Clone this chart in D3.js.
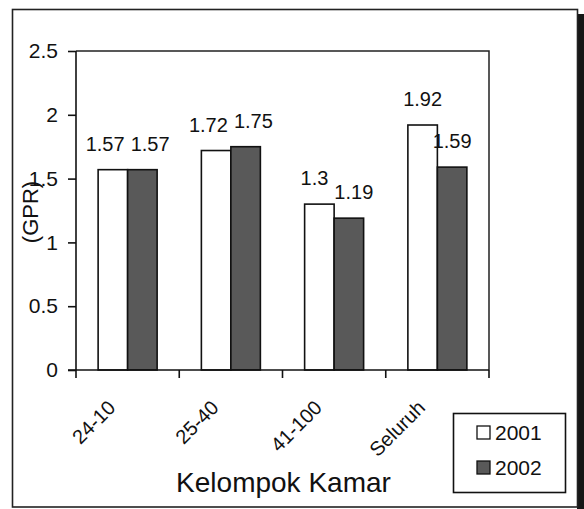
<!DOCTYPE html>
<html>
<head>
<meta charset="utf-8">
<script src="https://cdn.jsdelivr.net/npm/d3@7"></script>
<style>
	body { margin: 0; background: #fff; }
	svg text { font-family: "Liberation Sans", Arial, sans-serif; fill: #111; }
	.axis path, .axis line { stroke: #111; stroke-width: 1.6; }
</style>
</head>
<body>
<div id="chart"></div>
<script>
// data
var categories = ["24-10", "25-40", "41-100", "Seluruh"];
var years = ["2001", "2002"];
var gpr2001 = [1.57, 1.72, 1.3, 1.92];
var gpr2002 = [1.57, 1.75, 1.19, 1.59];
var yTicks = [0, 0.5, 1, 1.5, 2, 2.5];

var colors = {"2001": "#ffffff", "2002": "#595959"};

// magic numbers
var W = 584, H = 509;
var margin = {top: 51, left: 76, right: 95, bottom: 139},
	width = W - margin.left - margin.right,
	height = H - margin.top - margin.bottom;

var svg = d3.select("#chart").append("svg")
		.attr("width", W)
		.attr("height", H);

// outer frame + shadow
svg.append("rect")
		.attr("x", 577).attr("y", 14)
		.attr("width", 7).attr("height", H - 14)
		.attr("fill", "#161616");
svg.append("rect")
		.attr("x", 12.5).attr("y", 9.5)
		.attr("width", 565).attr("height", 497.5)
		.attr("fill", "#fff")
		.attr("stroke", "#222")
		.attr("stroke-width", 1.6);

var g = svg.append("g")
		.attr("transform", "translate(" + margin.left + "," + margin.top + ")");

var x0 = d3.scaleBand()
		.domain(categories)
		.range([0, width]);

var x1 = d3.scaleBand()
		.domain(years)
		.range([0, x0.bandwidth()])
		.paddingOuter(0.75);

var y = d3.scaleLinear()
		.domain([0, 2.5])
		.range([height, 0]);

var rows = categories.map(function(c, i){
	return {cat: c, values: [
		{year: "2001", value: gpr2001[i]},
		{year: "2002", value: gpr2002[i]}
	]};
});

// plot box (top + right)
g.append("path")
		.attr("d", "M0,0H" + width + "V" + height)
		.attr("fill", "none")
		.attr("stroke", "#222")
		.attr("stroke-width", 1.5);

// bars
var group = g.selectAll(".group")
		.data(rows)
	.enter().append("g")
		.attr("class", "group")
		.attr("transform", function(d){ return "translate(" + x0(d.cat) + ",0)"; });

group.selectAll("rect")
		.data(function(d){ return d.values; })
	.enter().append("rect")
		.attr("x", function(d){ return x1(d.year); })
		.attr("y", function(d){ return y(d.value); })
		.attr("width", x1.bandwidth())
		.attr("height", function(d){ return height - y(d.value); })
		.attr("fill", function(d){ return colors[d.year]; })
		.attr("stroke", "#111")
		.attr("stroke-width", 1.6);

// value labels, pushed apart when a pair collides
var labelSize = 20;
group.each(function(d){
	var sel = d3.select(this);
	var texts = d.values.map(function(v){
		return sel.append("text")
				.attr("class", "val")
				.attr("text-anchor", "middle")
				.attr("font-size", labelSize)
				.attr("x", x1(v.year) + x1.bandwidth() / 2)
				.attr("y", y(v.value) - 19)
				.text(v.value);
	});
	var a = texts[0].node().getBBox(), b = texts[1].node().getBBox();
	var overlapX = a.x + a.width + 6 - b.x,
		overlapY = Math.min(a.y + a.height, b.y + b.height) - Math.max(a.y, b.y);
	if (overlapX > 0 && overlapY > 4){
		texts[0].attr("x", +texts[0].attr("x") - overlapX / 2);
		texts[1].attr("x", +texts[1].attr("x") + overlapX / 2);
	}
});

// y axis
g.append("g")
		.attr("class", "axis y")
		.call(d3.axisLeft(y)
			.tickValues(yTicks)
			.tickSize(8)
			.tickPadding(10)
			.tickFormat(function(d){ return String(d); }))
		.call(function(s){ s.select(".domain").attr("d", "M0,0V" + height); })
		.selectAll("text")
			.attr("font-size", 21)
			.attr("fill", "#111");

// x axis
var xa = g.append("g")
		.attr("class", "axis x")
		.attr("transform", "translate(0," + height + ")");

xa.append("path")
		.attr("d", "M-8,0H" + width);

xa.selectAll(".tick")
		.data(categories.concat([null]))
	.enter().append("line")
		.attr("x1", function(d){ return d === null ? width : x0(d); })
		.attr("x2", function(d){ return d === null ? width : x0(d); })
		.attr("y1", 0)
		.attr("y2", 8);

xa.selectAll(".cat")
		.data(categories)
	.enter().append("text")
		.attr("class", "cat")
		.attr("font-size", 20)
		.attr("text-anchor", "end")
		.attr("transform", function(d){
			return "translate(" + (x0(d) + x0.bandwidth() / 2 - 11) + ",39) rotate(-45)";
		})
		.text(function(d){ return d; });

// axis titles
svg.append("text")
		.attr("x", margin.left + width / 2 + 1)
		.attr("y", 492)
		.attr("text-anchor", "middle")
		.attr("font-size", 28)
		.text("Kelompok Kamar");

svg.append("text")
		.attr("transform", "translate(38,212) rotate(-90)")
		.attr("text-anchor", "middle")
		.attr("font-size", 22)
		.text("(GPR)");

// legend
var legend = svg.append("g")
		.attr("transform", "translate(453,413)");

legend.append("rect")
		.attr("x", 0.5).attr("y", 0.5)
		.attr("width", 112).attr("height", 79)
		.attr("fill", "#fff")
		.attr("stroke", "#111")
		.attr("stroke-width", 1.6);

var item = legend.selectAll(".item")
		.data(years)
	.enter().append("g")
		.attr("class", "item")
		.attr("transform", function(d, i){ return "translate(24," + (13 + i * 35) + ")"; });

item.append("rect")
		.attr("width", 13).attr("height", 13)
		.attr("fill", function(d){ return colors[d]; })
		.attr("stroke", "#111")
		.attr("stroke-width", 1.3);

item.append("text")
		.attr("x", 18)
		.attr("y", 14)
		.attr("font-size", 21)
		.text(function(d){ return d; });
</script>
</body>
</html>
